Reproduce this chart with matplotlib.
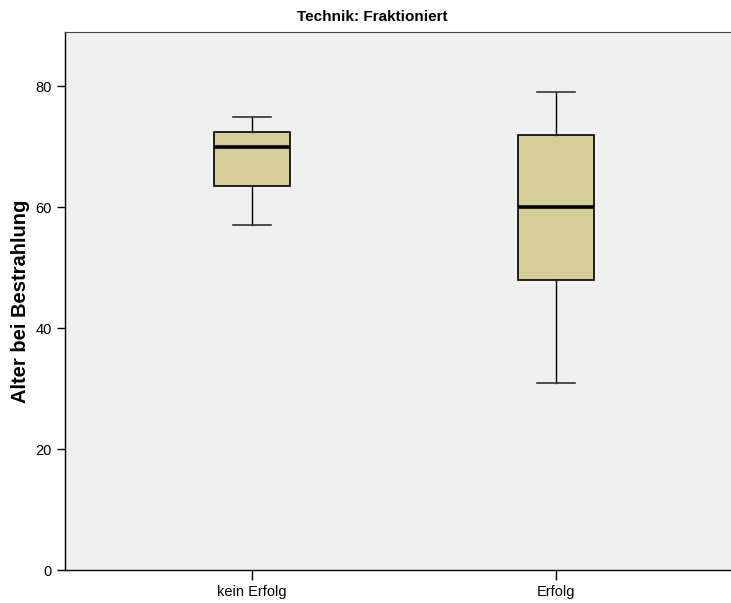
import matplotlib.pyplot as plt

# Alter bei Bestrahlung, Technik: Fraktioniert
categories = ["kein Erfolg", "Erfolg"]
whisker_low = [57, 31]
q1 = [63.5, 48]
median = [70, 60]
q3 = [72.5, 72]
whisker_high = [75, 79]

plt.rcParams['font.family'] = ['Liberation Sans', 'DejaVu Sans']

fig = plt.figure(figsize=(7.31, 6.03), dpi=100)
ax = fig.add_axes([65 / 731, 33 / 603, 678 / 731, 538 / 603])
ax.set_facecolor('#f0f0f0')

stats = []
for i, name in enumerate(categories):
    stats.append({
        'label': name,
        'whislo': whisker_low[i],
        'q1': q1[i],
        'med': median[i],
        'q3': q3[i],
        'whishi': whisker_high[i],
        'fliers': [],
    })

ax.bxp(stats, positions=[1, 2], widths=0.253, patch_artist=True,
       showfliers=False,
       boxprops=dict(facecolor='#d3ce97', edgecolor='black', linewidth=1.2),
       medianprops=dict(color='black', linewidth=2.6),
       whiskerprops=dict(color='black', linewidth=1.0),
       capprops=dict(color='#333333', linewidth=1.2),
       capwidths=0.125)

ax.set_xlim(0.385, 2.615)
ax.set_ylim(0, 89)
ax.set_yticks([0, 20, 40, 60, 80])
ax.tick_params(axis='both', direction='out', length=6, width=1, labelsize=10.5,
               colors='black')
ax.tick_params(axis='x', length=7, pad=4)

for side in ['left', 'bottom']:
    ax.spines[side].set_color('black')
    ax.spines[side].set_linewidth(1)
ax.spines['top'].set_color('#444444')
ax.spines['right'].set_visible(False)

ax.set_ylabel('Alter bei Bestrahlung', fontsize=14.5, fontweight='bold', labelpad=4)
fig.text(372 / 731, 1 - 17 / 603, 'Technik: Fraktioniert', fontsize=11,
         fontweight='bold', ha='center', va='center')

fig.savefig('out.png', dpi=100)
